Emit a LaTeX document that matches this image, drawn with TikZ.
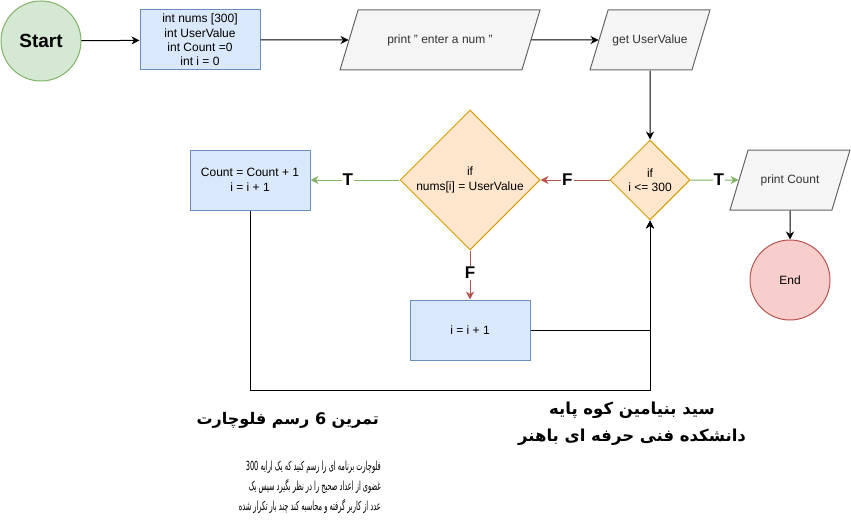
\documentclass[tikz,border=0pt]{standalone}
\usepackage{fontspec}
\setmainfont{Liberation Sans}
\newfontfamily\arabicfont[Script=Arabic]{DejaVu Sans}
\TeXXeTstate=1
\usetikzlibrary{shapes.geometric,arrows.meta}

\definecolor{startfill}{HTML}{D5E8D4}
\definecolor{startline}{HTML}{82B366}
\definecolor{procfill}{HTML}{DAE8FC}
\definecolor{procline}{HTML}{6C8EBF}
\definecolor{iofill}{HTML}{F5F5F5}
\definecolor{ioline}{HTML}{666666}
\definecolor{iotext}{HTML}{333333}
\definecolor{condfill}{HTML}{FFE6CC}
\definecolor{condline}{HTML}{D79B00}
\definecolor{endfill}{HTML}{F8CECC}
\definecolor{endline}{HTML}{B85450}

\begin{document}
\begin{tikzpicture}[x=1pt, y=-1pt,
  every node/.style={font=\fontsize{12}{14.4}\selectfont},
  term/.style={circle, draw, line width=1pt, minimum size=80pt, inner sep=0pt},
  proc/.style={rectangle, draw=procline, fill=procfill, line width=1pt, minimum width=120pt, minimum height=60pt, inner sep=0pt, align=center},
  io/.style={trapezium, trapezium left angle=73, trapezium right angle=107, trapezium stretches body=true, draw=ioline, fill=iofill, text=iotext, line width=1pt, minimum height=60pt, inner xsep=0pt, inner ysep=24pt},
  cond/.style={diamond, shape aspect=1, draw=condline, fill=condfill, line width=1pt, inner sep=0pt, align=center},
  flow/.style={-{Stealth[length=8pt, width=8pt, inset=2.5pt]}, line width=1pt},
  yes/.style={flow, draw=startline, fill=startline},
  no/.style={flow, draw=endline, fill=endline},
  lab/.style={fill=white, text=black, inner sep=1pt, font=\fontsize{17}{17}\selectfont\bfseries},
]
\useasboundingbox (0,0) rectangle (851,524);
%top row
\node[term, fill=startfill, draw=startline] (start) at (41,41) {\fontsize{19}{19}\selectfont\bfseries Start};
\node[proc] (init) at (200,40) {int nums [300]\\int UserValue\\int Count =0\\int i = 0};
\node[io, minimum width=200pt] (ask) at (440,40) {print " enter a num "};
\node[io, minimum width=120pt] (get) at (650,40) {get UserValue};
%conditions
\node[cond, minimum size=80pt] (ifi) at (650,180) {if\\i <= 300};
\node[cond, minimum size=140pt] (ifn) at (470,180) {if\\nums[i] = UserValue};
%updates
\node[proc] (count) at (250,180) {Count = Count + 1\\i = i + 1};
\node[proc] (incr) at (470,330) {i = i + 1};
%output
\node[io, minimum width=120pt] (show) at (790,180) {print Count};
\node[term, fill=endfill, draw=endline] (stop) at (790,280) {End};
\coordinate (back) at (650,390);

\draw[flow] (start) -- (init);
\draw[flow] (init) -- (ask);
\draw[flow] (ask) -- (get);
\draw[flow] (get.south) -- (ifi.north);
\draw[no] (ifi) -- node[lab, pos=0.61] {F} (ifn);
\draw[yes] (ifn) -- node[lab, pos=0.58] {T} (count);
\draw[no] (ifn) -- node[lab, pos=0.46] {F} (incr);
\draw[yes] (ifi) -- node[lab, pos=0.59] {T} (show);
\draw[flow] (show) -- (stop);
%loop back
\draw[flow] (count.south) |- (back) -- (ifi.south);
\draw[flow] (incr.east) -| (ifi.south);

%texts
\node[align=center, font=\arabicfont\bfseries\fontsize{16.5}{27}\selectfont] (author) at (632,424)
  {\beginR سید بنیامین کوه پایه\endR\\\beginR دانشکده فنی حرفه ای باهنر\endR};
\node[anchor=east, inner sep=0pt, font=\arabicfont\bfseries\fontsize{16}{16}\selectfont] (title) at (379,420)
  {\beginR تمرین 6 رسم فلوچارت\endR};
\node[anchor=north east, inner sep=0pt, font=\arabicfont\fontsize{12.5}{20}\selectfont] (task) at (381,456)
  {\scalebox{0.53}[1]{\begin{tabular}{@{}r@{}}
   \beginR فلوچارت برنامه ای را رسم کنید که یک ارایه \beginL 300\endL\endR\\
   \beginR غضوی از اعداد صحیح را در نظر بگیرد سپس یک\endR\\
   \beginR عدد از کاربر گرفته و محاسبه کند چند بار تکرار شده\endR
  \end{tabular}}};
\end{tikzpicture}
\end{document}
